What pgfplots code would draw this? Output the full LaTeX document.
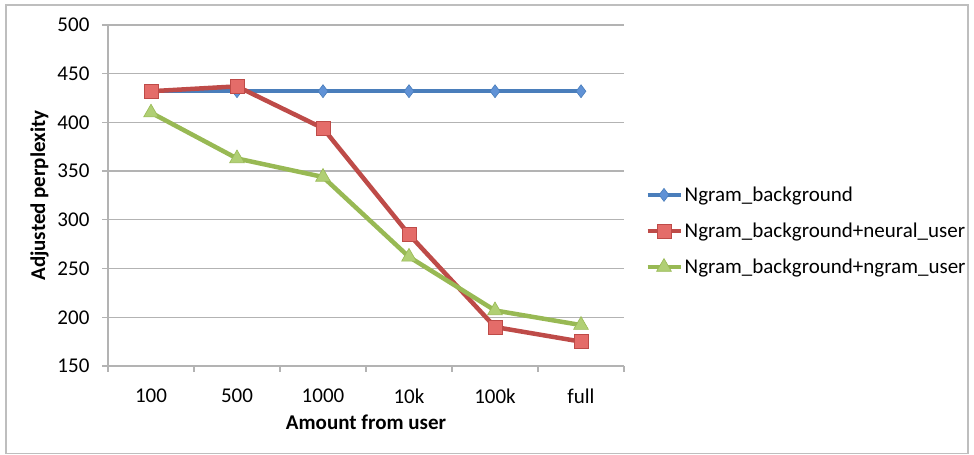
\documentclass[border=0pt]{standalone}
\usepackage{fontspec}
\setmainfont{Carlito}
\usepackage{pgfplots}
\pgfplotsset{compat=1.18}
\definecolor{gridgray}{RGB}{179,179,179}
\definecolor{bline}{RGB}{74,126,187}
\definecolor{bfill}{RGB}{96,146,214}
\definecolor{rline}{RGB}{190,75,72}
\definecolor{rfill}{RGB}{228,108,105}
\definecolor{gline}{RGB}{152,185,84}
\definecolor{gfill}{RGB}{176,207,116}
\definecolor{framegray}{RGB}{190,190,190}
\begin{document}
\begin{tikzpicture}[x=1bp,y=1bp]
\path[use as bounding box] (0,0) rectangle (974,455);
\draw[framegray, line width=1.5bp] (6,1.5) rectangle (968,450);
\begin{axis}[
  at={(108bp,89bp)}, anchor=south west,
  scale only axis, width=516bp, height=341bp,
  xmin=-0.5, xmax=5.5, ymin=150, ymax=500,
  axis lines*=left,
  axis line style={gridgray, line width=1.3bp},
  xtick={-0.5,0.5,1.5,2.5,3.5,4.5,5.5},
  x tick label as interval,
  xticklabels={100,500,1000,10k,100k,full},
  ytick={150,200,...,500},
  tick align=outside,
  tick style={gridgray, line width=1.3bp},
  major tick length=6bp,
  ymajorgrids,
  grid style={gridgray, line width=1.3bp},
  font=\fontsize{21bp}{25bp}\selectfont,
  /pgf/number format/assume math mode=true,
  ticklabel style={font=\fontsize{21bp}{25bp}\selectfont},
  xticklabel style={yshift=-11bp},
  yticklabel style={xshift=-7bp},
  xlabel={\bfseries Amount from user},
  ylabel={\bfseries Adjusted perplexity},
  xlabel style={yshift=-3bp},
  ylabel style={yshift=0bp},
  legend style={draw=none, fill=none, at={(1.0368,0.396)}, anchor=west,
    font=\fontsize{21bp}{25bp}\selectfont, row sep=16bp,
    inner sep=0pt, cells={anchor=west}},
  legend image code/.code={%
    \draw[mark repeat=2, mark phase=2, #1] plot coordinates {(0bp,0bp) (16.5bp,0bp) (33bp,0bp)};},
  line width=4.5bp,
  clip=false,
]
\addplot[bline, mark=diamond*, mark size=6.5bp, mark options={fill=bfill, draw=bline, line width=0.6bp}]
  coordinates {(0,432) (1,432) (2,432) (3,432) (4,432) (5,432)};
\addlegendentry{Ngram\_background}
\addplot[rline, mark=square*, mark size=7bp, mark options={fill=rfill, draw=rline, line width=0.6bp}]
  coordinates {(0,432) (1,437) (2,394) (3,285) (4,190) (5,175)};
\addlegendentry{Ngram\_background+neural\_user}
\addplot[gline, mark=triangle*, mark size=8.5bp, mark options={fill=gfill, draw=gline, line width=0.6bp}]
  coordinates {(0,410) (1,363) (2,344) (3,262) (4,207) (5,192)};
\addlegendentry{Ngram\_background+ngram\_user}
\end{axis}
\end{tikzpicture}
\end{document}
